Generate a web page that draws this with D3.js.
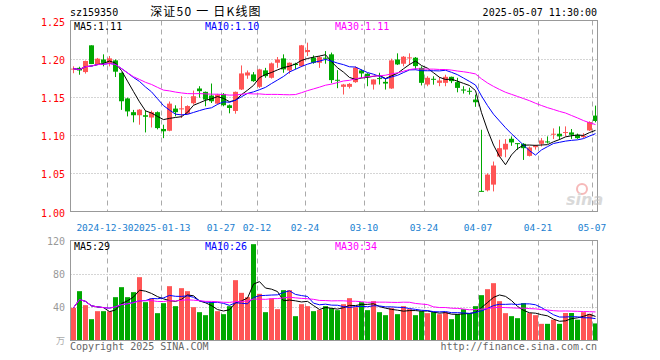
<!DOCTYPE html>
<html>
<head>
<meta charset="utf-8">
<script src="https://cdn.jsdelivr.net/npm/d3@7"></script>
<style>
    body { margin: 0; background: #fff; }
    text { font-family: "DejaVu Sans Mono", "Liberation Mono", monospace; font-size: 10px; }
</style>
</head>
<body>
<svg id="klineSVG" width="660" height="360"></svg>
<script>
// trading days shown on the chart
const dates = [
    "2024-12-20","2024-12-23","2024-12-24","2024-12-25","2024-12-26","2024-12-27","2024-12-30","2024-12-31",
    "2025-01-02","2025-01-03","2025-01-06","2025-01-07","2025-01-08","2025-01-09","2025-01-10","2025-01-13",
    "2025-01-14","2025-01-15","2025-01-16","2025-01-17","2025-01-20","2025-01-21","2025-01-22","2025-01-23",
    "2025-01-24","2025-01-27","2025-02-05","2025-02-06","2025-02-07","2025-02-10","2025-02-11","2025-02-12",
    "2025-02-13","2025-02-14","2025-02-17","2025-02-18","2025-02-19","2025-02-20","2025-02-21","2025-02-24",
    "2025-02-25","2025-02-26","2025-02-27","2025-02-28","2025-03-03","2025-03-04","2025-03-05","2025-03-06",
    "2025-03-07","2025-03-10","2025-03-11","2025-03-12","2025-03-13","2025-03-14","2025-03-17","2025-03-18",
    "2025-03-19","2025-03-20","2025-03-21","2025-03-24","2025-03-25","2025-03-26","2025-03-27","2025-03-28",
    "2025-03-31","2025-04-01","2025-04-02","2025-04-03","2025-04-07","2025-04-08","2025-04-09","2025-04-10",
    "2025-04-11","2025-04-14","2025-04-15","2025-04-16","2025-04-17","2025-04-18","2025-04-21","2025-04-22",
    "2025-04-23","2025-04-24","2025-04-25","2025-04-28","2025-04-29","2025-04-30","2025-05-06","2025-05-07"
];

const open = [
    1.186,1.188,1.1825,1.2175,1.1925,1.199,1.1934,1.1978,1.1815,1.148,1.130,1.126,1.126,1.123,1.130,1.108,
    1.1057,1.1347,1.1345,1.1277,1.1417,1.161,1.1566,1.1518,1.1412,1.1539,1.139,1.1316,1.1597,1.178,1.1794,1.1632,
    1.1847,1.175,1.1947,1.2004,1.1846,1.1934,1.1903,1.2087,1.2013,1.1947,1.2013,1.2057,1.1724,1.1632,1.1632,1.1693,
    1.1847,1.1803,1.1662,1.1746,1.1697,1.161,1.199,1.1934,1.2004,1.2013,1.188,1.1662,1.1737,1.1684,1.1684,1.1763,
    1.1693,1.1597,1.158,1.1465,1.027,1.0277,1.0352,1.0719,1.0811,1.0952,1.0895,1.0886,1.0728,1.0842,1.0886,1.0917,
    1.1013,1.1018,1.1035,1.1035,1.1004,1.0974,1.1061,1.1255
];
const high = [
    1.190,1.1895,1.1975,1.2175,1.201,1.2057,1.2035,1.199,1.182,1.149,1.133,1.134,1.132,1.132,1.131,1.1136,
    1.144,1.139,1.151,1.139,1.1583,1.164,1.157,1.1675,1.154,1.155,1.140,1.157,1.1912,1.1846,1.1825,1.1868,
    1.188,1.195,1.2022,1.2057,1.195,1.1947,1.218,1.221,1.2044,1.2035,1.210,1.208,1.185,1.167,1.168,1.190,
    1.186,1.181,1.173,1.1816,1.174,1.200,1.207,1.2035,1.207,1.2022,1.190,1.177,1.177,1.176,1.179,1.1765,
    1.175,1.164,1.162,1.153,1.107,1.050,1.0654,1.0939,1.0948,1.0983,1.0895,1.0895,1.0851,1.0873,1.0961,1.0983,
    1.1088,1.1114,1.1114,1.108,1.102,1.1025,1.118,1.1386
];
const low = [
    1.181,1.179,1.1805,1.193,1.1915,1.190,1.190,1.176,1.133,1.1245,1.1167,1.1136,1.1035,1.110,1.1075,1.096,
    1.105,1.1245,1.1224,1.127,1.140,1.149,1.1377,1.142,1.140,1.1377,1.1285,1.128,1.159,1.1737,1.1697,1.1618,
    1.175,1.174,1.188,1.1816,1.1803,1.186,1.189,1.2035,1.1934,1.188,1.1934,1.168,1.1614,1.1531,1.161,1.1684,
    1.175,1.164,1.1596,1.1662,1.1596,1.1605,1.1917,1.190,1.1917,1.186,1.165,1.164,1.166,1.164,1.164,1.168,
    1.156,1.1544,1.153,1.137,1.026,1.0263,1.0263,1.071,1.071,1.086,1.0807,1.0675,1.072,1.081,1.0851,1.089,
    1.0948,1.0939,1.0983,1.095,1.095,1.096,1.1053,1.1167
];
const close = [
    1.187,1.1846,1.197,1.193,1.200,1.1945,1.2004,1.183,1.1443,1.131,1.126,1.1333,1.124,1.130,1.1092,1.105,
    1.1412,1.130,1.135,1.138,1.1509,1.1575,1.1465,1.1443,1.153,1.1391,1.1355,1.1566,1.1807,1.182,1.1706,1.186,
    1.1772,1.1939,1.199,1.186,1.1947,1.1917,1.2175,1.2114,1.1947,1.202,1.2004,1.172,1.1715,1.1662,1.167,1.1882,
    1.1807,1.1759,1.1728,1.1737,1.1675,1.1978,1.1925,1.2026,1.2017,1.1903,1.1684,1.175,1.1728,1.1715,1.1763,1.1706,
    1.1618,1.1583,1.1575,1.143,1.026,1.0483,1.0602,1.0829,1.0886,1.0904,1.0893,1.0829,1.0838,1.0864,1.093,1.0913,
    1.1018,1.0983,1.104,1.1004,1.096,1.0991,1.1171,1.1185
];
// volume, 万
const volume = [
    39.2,59.2,42.4,25.6,35.2,35.2,35,52,64,52,58,76,46,50.4,32.8,44.8,
    65.2,41.2,62.8,59.2,40,34,30.4,46,35.2,31.6,41.2,72.4,57.2,52,115.6,56,
    34,50.4,37.6,60.4,60.4,29.2,43.6,41.2,35.2,36.8,41.2,38.8,36.4,43.6,50.8,40,
    46,36.4,47.2,34,30.4,38.8,31.6,41.2,37.6,30.4,35.2,32.8,34,31.6,34,25.6,
    31.6,37.6,32.8,41.2,54.4,61.6,68.8,47.2,32.8,29.2,26.8,44.8,32.8,30.4,20,20,
    25,20,33,33,25,34,32,20.5
];

const tickDates = ["2024-12-30","2025-01-13","2025-01-27","2025-02-12","2025-02-24","2025-03-10","2025-03-24","2025-04-07","2025-04-21","2025-05-07"];
const tickLabels = ["2024-12-30","2025-01-13","01-27","02-12","02-24","03-10","03-24","04-07","04-21","05-07"];
const priceTicks = [1.00, 1.05, 1.10, 1.15, 1.20, 1.25];
const volumeTicks = [40, 80, 120];
const priceMALabels = ["MA5:1.11", "MA10:1.10", "MA30:1.11"];
const volumeMALabels = ["MA5:29", "MA10:26", "MA30:34"];
const maPeriods = [5, 10, 30];
const maColors = ["#000", "#00f", "#f0f"];

const upColor = "#ff5555", downColor = "#00a800";

// moving average over the available window
function movingAverage(values, n) {
    return values.map((v, i) => d3.mean(values.slice(Math.max(0, i - n + 1), i + 1)));
}

function klineDrawing(id) {
    const svg = d3.select(id);
    const left = 70.5, right = 597.5;
    const mainTop = 20.5, mainBottom = 211.5;
    const volTop = 240.5, volBottom = 340.5;

    const x = d3.scaleBand().domain(dates).range([left, right]).paddingInner(1/6).paddingOuter(1/12);
    const cx = d => Math.round(x(d) + x.bandwidth() / 2) + 0.5;
    const yPrice = d3.scaleLinear().domain([1.00, 1.25]).range([mainBottom, mainTop]);
    const yVol = d3.scaleLinear().domain([0, 120]).range([volBottom, volTop]);

    const candles = dates.map((d, i) => ({date: d, o: open[i], h: high[i], l: low[i], c: close[i], v: volume[i]}));
    const colorOf = d => d.c >= d.o ? upColor : downColor;

    // grids
    const grid = svg.append("g").attr("stroke", "#aaa").attr("stroke-width", 1);
    grid.selectAll(".hp").data(priceTicks.slice(1, -1)).join("line")
        .attr("x1", left).attr("x2", right)
        .attr("y1", d => Math.round(yPrice(d)) + 0.5).attr("y2", d => Math.round(yPrice(d)) + 0.5)
        .attr("stroke-dasharray", "1,2");
    grid.selectAll(".hv").data(volumeTicks.slice(0, -1)).join("line")
        .attr("x1", left).attr("x2", right)
        .attr("y1", d => Math.round(yVol(d)) + 0.5).attr("y2", d => Math.round(yVol(d)) + 0.5)
        .attr("stroke-dasharray", "1,2");
    [[mainTop, mainBottom], [volTop, volBottom]].forEach(([t, b]) => {
        grid.append("g").selectAll("line").data(tickDates).join("line")
            .attr("x1", d => Math.round(x(d)) + 0.5).attr("x2", d => Math.round(x(d)) + 0.5)
            .attr("y1", t).attr("y2", b)
            .attr("stroke-dasharray", "5,4");
    });

    // candles
    const k = svg.append("g").selectAll("g").data(candles).join("g");
    k.append("line")
        .attr("x1", d => cx(d.date)).attr("x2", d => cx(d.date))
        .attr("y1", d => yPrice(d.h)).attr("y2", d => yPrice(d.l))
        .attr("stroke", colorOf);
    k.append("rect")
        .attr("x", d => cx(d.date) - 2.5)
        .attr("width", 5)
        .attr("y", d => yPrice(Math.max(d.o, d.c)))
        .attr("height", d => Math.max(1, yPrice(Math.min(d.o, d.c)) - yPrice(Math.max(d.o, d.c))))
        .attr("fill", colorOf);

    // volume bars
    svg.append("g").selectAll("rect").data(candles).join("rect")
        .attr("x", d => cx(d.date) - 2.5)
        .attr("width", 5)
        .attr("y", d => yVol(d.v))
        .attr("height", d => yVol(0) - yVol(d.v))
        .attr("fill", colorOf);

    // moving averages
    maPeriods.forEach((n, j) => {
        const pm = movingAverage(close, n);
        const vm = movingAverage(volume, n);
        svg.append("path").datum(pm)
            .attr("fill", "none").attr("stroke", maColors[j]).attr("stroke-width", 1)
            .attr("d", d3.line().x((v, i) => cx(dates[i])).y(v => yPrice(v)));
        svg.append("path").datum(vm)
            .attr("fill", "none").attr("stroke", maColors[j]).attr("stroke-width", 1)
            .attr("d", d3.line().x((v, i) => cx(dates[i])).y(v => yVol(v)));
    });

    // frames
    svg.append("rect").attr("x", left).attr("y", mainTop).attr("width", right - left).attr("height", mainBottom - mainTop)
        .attr("fill", "none").attr("stroke", "#999");
    svg.append("rect").attr("x", left).attr("y", volTop).attr("width", right - left).attr("height", volBottom - volTop)
        .attr("fill", "none").attr("stroke", "#999");

    // axis labels
    svg.append("g").selectAll("text").data(priceTicks).join("text")
        .attr("x", 65).attr("y", d => yPrice(d) + 5)
        .attr("text-anchor", "end").attr("fill", "#f00")
        .text(d => d.toFixed(2));
    svg.append("g").selectAll("text").data(volumeTicks).join("text")
        .attr("x", 65).attr("y", d => yVol(d) + 4)
        .attr("text-anchor", "end").attr("fill", "#999")
        .text(d => d);
    svg.append("text").attr("x", 65).attr("y", 344).attr("text-anchor", "end").attr("fill", "#aaa")
        .style("font-family", "'Noto Sans CJK SC'").style("font-size", "9px").text("万");
    // the first two labels sit very close together, as on the original
    const labelShift = [-2, 1, 0, 0, 0, 0, 0, 0, 0, 0];
    svg.append("g").selectAll("text").data(tickDates).join("text")
        .attr("x", (d, i) => Math.round(x(d)) + labelShift[i])
        .attr("y", 231)
        .attr("text-anchor", "middle").attr("fill", "#1a80d0")
        .style("font-size", "9.5px")
        .text((d, i) => tickLabels[i]);

    // MA legends
    const legendX = [74, 205, 335];
    priceMALabels.forEach((t, j) => svg.append("text").attr("x", legendX[j]).attr("y", 30).attr("fill", maColors[j]).text(t));
    volumeMALabels.forEach((t, j) => svg.append("text").attr("x", legendX[j]).attr("y", 250).attr("fill", maColors[j]).text(t));

    // header
    svg.append("text").attr("x", 70).attr("y", 16).attr("fill", "#000").text("sz159350");
    svg.append("text").attr("x", 206).attr("y", 16).attr("text-anchor", "middle").attr("fill", "#000")
        .style("font-family", "'Noto Sans CJK SC', 'DejaVu Sans Mono'").style("font-size", "12px")
        .style("letter-spacing", "1.2px")
        .text("深证50 一 日K线图");
    svg.append("text").attr("x", 597).attr("y", 16).attr("text-anchor", "end").attr("fill", "#000")
        .text("2025-05-07 11:30:00");

    // footer
    svg.append("text").attr("x", 70).attr("y", 350).attr("fill", "#666").text("Copyright 2025 SINA.COM");
    svg.append("text").attr("x", 597).attr("y", 350).attr("text-anchor", "end").attr("fill", "#666").text("http://finance.sina.com.cn");

    // watermark
    const wm = svg.append("g").attr("opacity", 0.55);
    wm.append("circle").attr("cx", 582).attr("cy", 189).attr("r", 5).attr("fill", "none").attr("stroke", "#f08080").attr("stroke-width", 2);
    wm.append("text").attr("x", 566).attr("y", 205).attr("fill", "#bbb")
        .style("font-family", "'DejaVu Sans'").style("font-size", "16px").style("font-style", "italic").style("font-weight", "bold")
        .text("sina");
}

klineDrawing("#klineSVG");
</script>
</body>
</html>
